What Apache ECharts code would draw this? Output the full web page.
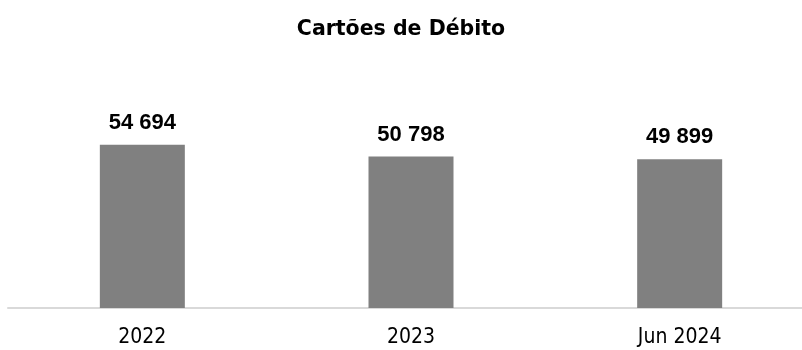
<!DOCTYPE html>
<html>
<head>
<meta charset="utf-8">
<script src="https://cdn.jsdelivr.net/npm/echarts@6/dist/echarts.min.js"></script>
<style>
  html, body { margin: 0; padding: 0; background: #fff; }
  #chart { width: 802px; height: 350px; }
</style>
</head>
<body>
<div id="chart"></div>
<script>
const categories = ['2022', '2023', 'Jun 2024'];
const values = [54694, 50798, 49899];
const chartTitle = 'Cartões de Débito';

// formata com espaço como separador de milhares
const fmt = (v) => String(v).replace(/\B(?=(\d{3})+(?!\d))/g, ' ');

const chart = echarts.init(document.getElementById('chart'));

chart.setOption({
  animation: false,
  title: {
    text: chartTitle,
    left: 'center',
    top: 14,
    textStyle: {
      fontFamily: 'DejaVu Sans',
      fontSize: 20.5,
      fontWeight: 'bold',
      color: '#000'
    }
  },
  // a grelha passa um pouco da borda direita, como no original
  grid: { left: 8, right: -12, top: 129, bottom: 42, outerBoundsMode: 'none' },
  xAxis: {
    type: 'category',
    data: categories,
    axisLine: { lineStyle: { color: '#d9d9d9', width: 2 } },
    axisTick: { show: false },
    axisLabel: {
      margin: 19,
      fontFamily: 'DejaVu Sans Condensed, DejaVu Sans',
      fontSize: 21,
      color: '#000'
    }
  },
  yAxis: {
    type: 'value',
    min: 0,
    max: 60000,
    show: false,
    splitLine: { show: false }
  },
  series: [{
    type: 'bar',
    data: values,
    barWidth: 85,
    itemStyle: { color: '#808080' },
    label: {
      show: true,
      position: 'top',
      distance: 11,
      formatter: (p) => fmt(p.value),
      fontFamily: 'Liberation Sans',
      fontSize: 22,
      fontWeight: 'bold',
      color: '#000'
    }
  }]
});

window.addEventListener('resize', () => chart.resize());
</script>
</body>
</html>
